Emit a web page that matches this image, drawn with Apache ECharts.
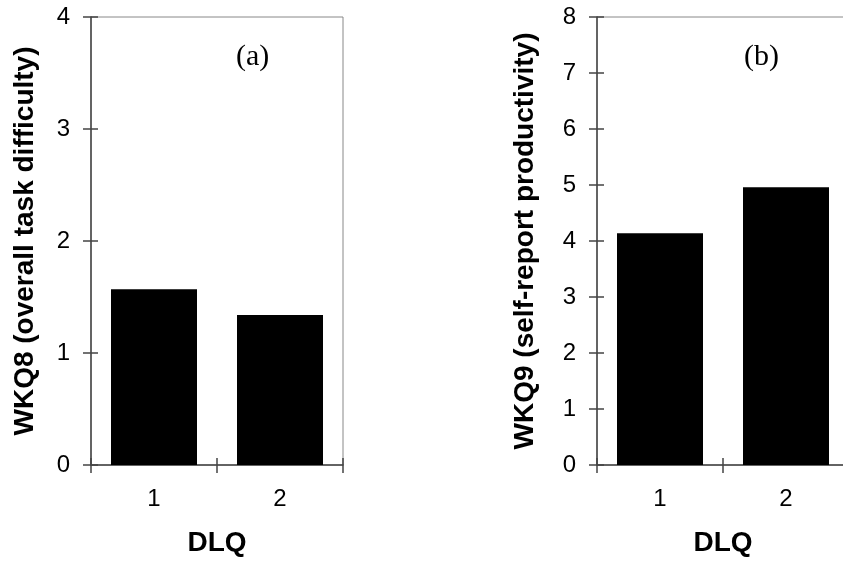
<!DOCTYPE html>
<html>
<head>
<meta charset="utf-8">
<script src="https://cdn.jsdelivr.net/npm/echarts@6/dist/echarts.min.js"></script>
<style>
  html, body { margin: 0; padding: 0; background: #fff; }
  #chart { width: 843px; height: 567px; }
</style>
</head>
<body>
<div id="chart"></div>
<script>
const categories = ['1', '2'];
const wkq8 = [1.57, 1.34];
const wkq9 = [4.14, 4.96];

const FONT = '"Liberation Sans", Arial, sans-serif';
const SERIF = '"Liberation Serif", "Times New Roman", serif';

const chart = echarts.init(document.getElementById('chart'), null, { renderer: 'canvas' });

function xAxes(grid, withName) {
    const base = {
        type: 'category',
        data: categories,
        gridIndex: grid,
        position: 'bottom',
        boundaryGap: true
    };
    return [
        Object.assign({}, base, {
            name: withName ? 'DLQ' : '',
            nameLocation: 'middle',
            nameGap: 64,
            nameTextStyle: { fontFamily: FONT, fontSize: 28, fontWeight: 'bold', color: '#000' },
            axisLine: { lineStyle: { color: '#444', width: 1.5 } },
            axisTick: { show: true, length: 8, lineStyle: { color: '#444', width: 1.5 } },
            axisLabel: { fontFamily: FONT, fontSize: 24, color: '#000', margin: 22 },
            splitLine: { show: false }
        }),
        // inner half of the crossing ticks
        Object.assign({}, base, {
            axisLine: { show: false },
            axisTick: { show: true, inside: true, length: 7, lineStyle: { color: '#444', width: 1.5 } },
            axisLabel: { show: false },
            splitLine: { show: false }
        })
    ];
}

function yAxes(grid, max, name, gap) {
    const base = { type: 'value', gridIndex: grid, position: 'left', min: 0, max: max, interval: 1 };
    return [
        Object.assign({}, base, {
            name: name,
            nameLocation: 'middle',
            nameGap: gap,
            nameTextStyle: { fontFamily: FONT, fontSize: 28, fontWeight: 'bold', color: '#000' },
            axisLine: { show: true, lineStyle: { color: '#444', width: 1.5 } },
            axisTick: { show: true, length: 8, lineStyle: { color: '#444', width: 1.5 } },
            axisLabel: { fontFamily: FONT, fontSize: 24, color: '#000', margin: 21 },
            splitLine: { show: false }
        }),
        Object.assign({}, base, {
            axisLine: { show: false },
            axisTick: { show: true, inside: true, length: 7, lineStyle: { color: '#444', width: 1.5 } },
            axisLabel: { show: false },
            splitLine: { show: false }
        })
    ];
}

const option = {
    animation: false,
    backgroundColor: '#fff',
    title: [
        { text: '(a)', left: 231, top: 37, textStyle: { fontFamily: SERIF, fontSize: 30, fontWeight: 'normal', color: '#000' } },
        { text: '(b)', left: 739, top: 37, textStyle: { fontFamily: SERIF, fontSize: 30, fontWeight: 'normal', color: '#000' } }
    ],
    grid: [
        { left: 91, top: 17, width: 252, height: 448, show: true, borderColor: '#888', borderWidth: 1,
          backgroundColor: 'transparent', outerBoundsMode: 'none', containLabel: false },
        { left: 597, top: 17, width: 252, height: 448, show: true, borderColor: '#888', borderWidth: 1,
          backgroundColor: 'transparent', outerBoundsMode: 'none', containLabel: false }
    ],
    xAxis: [...xAxes(0, true), ...xAxes(1, true)],
    yAxis: [
        ...yAxes(0, 4, 'WKQ8 (overall task difficulty)', 52),
        ...yAxes(1, 8, 'WKQ9 (self-report productivity)', 58)
    ],
    series: [
        {
            type: 'bar', xAxisIndex: 0, yAxisIndex: 0, data: wkq8,
            barWidth: 86, itemStyle: { color: '#000' }
        },
        {
            type: 'bar', xAxisIndex: 2, yAxisIndex: 2, data: wkq9,
            barWidth: 86, itemStyle: { color: '#000' }
        }
    ]
};

chart.setOption(option);
</script>
</body>
</html>
